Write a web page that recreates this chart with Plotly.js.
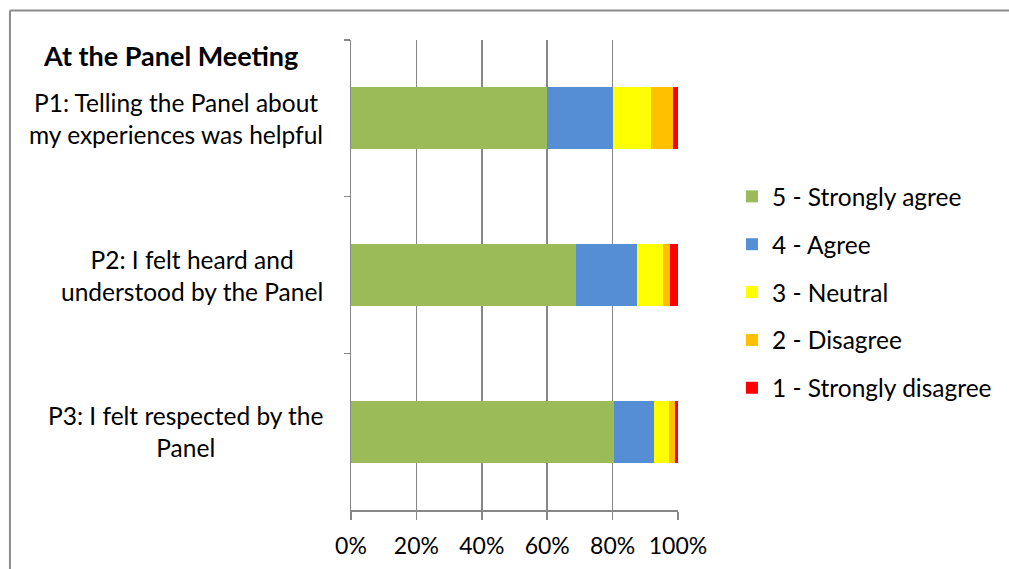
<!DOCTYPE html>
<html>
<head>
<meta charset="utf-8">
<script src="https://cdn.plot.ly/plotly-3.0.1.min.js"></script>
<style>
html,body{margin:0;padding:0;background:#fff;overflow:hidden;}
#chart{width:1009px;height:569px;}
</style>
</head>
<body>
<div id="chart"></div>
<script>
var categories = ["P1", "P2", "P3"];
var categoryLabels = [
  "P1: Telling the Panel about<br>my experiences was helpful",
  "P2: I felt heard and<br>understood by the Panel",
  "P3: I felt respected by the<br>Panel"
];
var seriesNames = ["5 - Strongly agree", "4 - Agree", "3 - Neutral", "2 - Disagree", "1 - Strongly disagree"];
var stronglyAgree = [0.598, 0.688, 0.804];
var agree = [0.204, 0.187, 0.123];
var neutral = [0.115, 0.080, 0.044];
var disagree = [0.068, 0.022, 0.021];
var stronglyDisagree = [0.015, 0.023, 0.008];
var seriesValues = [stronglyAgree, agree, neutral, disagree, stronglyDisagree];
var seriesColors = ["#9BBB59", "#558ED5", "#FFFF00", "#FFC000", "#FF0000"];
var xTickValues = [0, 0.2, 0.4, 0.6, 0.8, 1];
var titleText = "<b>At the Panel Meeting</b>";

var FONT = "Lato, 'Liberation Sans', sans-serif";

var traces = seriesNames.map(function (name, i) {
  return {
    type: "bar",
    orientation: "h",
    name: name,
    y: categories,
    x: seriesValues[i],
    marker: {color: seriesColors[i], line: {width: 0}},
    legendgroup: "g" + i,
    hoverinfo: "name+x"
  };
});

var annotations = categories.map(function (c, i) {
  return {
    xref: "paper", yref: "y",
    x: -0.08, y: c,
    xanchor: "right", yanchor: "middle",
    align: "center",
    text: categoryLabels[i],
    showarrow: false,
    font: {family: FONT, size: 24.5, color: "#000"}
  };
});

var borderLine = {color: "#8C8C8C", width: 2};

var layout = {
  width: 1009, height: 569,
  margin: {l: 351, r: 331, t: 40, b: 59, pad: 0, autoexpand: false},
  paper_bgcolor: "#fff", plot_bgcolor: "#fff",
  barmode: "stack",
  bargap: 0.605,
  showlegend: true,
  title: {
    text: titleText,
    xref: "container", yref: "container",
    x: 0.0436, xanchor: "left",
    y: 0.9, yanchor: "middle",
    font: {family: FONT, size: 27, color: "#000"}
  },
  xaxis: {
    range: [0, 1],
    tickvals: xTickValues,
    tickformat: ".0%",
    showgrid: true, gridcolor: "#878787", gridwidth: 1.5,
    showline: true, linecolor: "#878787", linewidth: 1.5,
    ticks: "outside", ticklen: 8, tickcolor: "#878787", tickwidth: 1.5,
    ticklabelstandoff: 7,
    tickfont: {family: FONT, size: 23, color: "#000"},
    zeroline: false, fixedrange: true, automargin: false
  },
  yaxis: {
    type: "category",
    autorange: "reversed",
    showticklabels: false,
    tickson: "boundaries",
    ticks: "outside", ticklen: 6, tickcolor: "#878787", tickwidth: 1.5,
    showline: true, linecolor: "#878787", linewidth: 1.5,
    showgrid: false, zeroline: false, fixedrange: true, automargin: false
  },
  legend: {
    x: 1.165, xanchor: "left",
    y: 0.715, yanchor: "top",
    traceorder: "grouped",
    tracegroupgap: 13,
    font: {family: FONT, size: 24.5, color: "#000"},
    bgcolor: "rgba(0,0,0,0)",
    itemwidth: 30
  },
  annotations: annotations,
  shapes: [
    {type: "line", xref: "paper", yref: "paper", x0: -1.043, x1: -1.043, y0: -0.2, y1: 1.063, line: borderLine, layer: "below"},
    {type: "line", xref: "paper", yref: "paper", x0: -1.043, x1: 2.1, y0: 1.063, y1: 1.063, line: borderLine, layer: "below"}
  ]
};

Plotly.newPlot("chart", traces, layout, {displayModeBar: false, staticPlot: true});
</script>
</body>
</html>
